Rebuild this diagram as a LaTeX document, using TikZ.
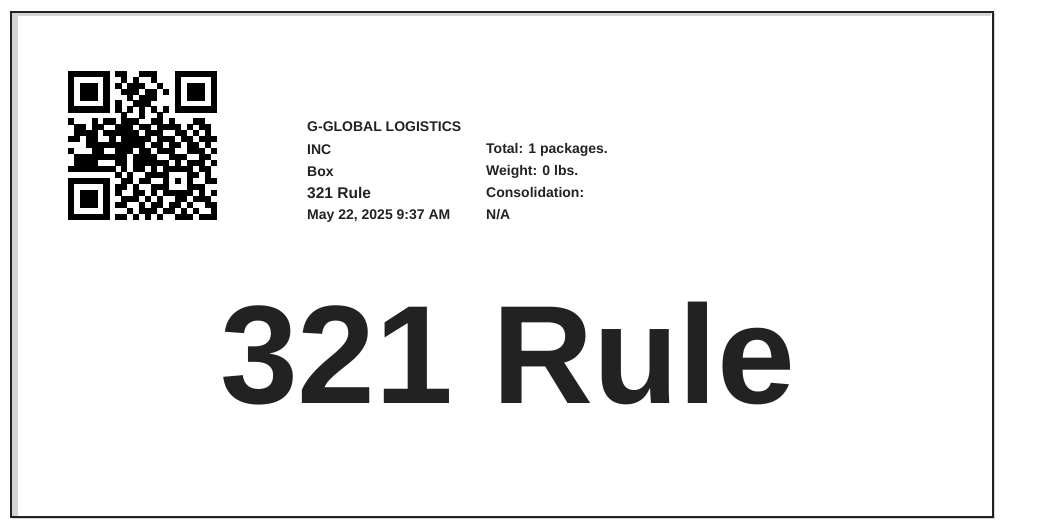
\documentclass[tikz,border=0pt]{standalone}
\usepackage{fontspec}
\setmainfont{Liberation Sans}
\definecolor{labelgray}{RGB}{34,34,34}
\definecolor{edgegray}{RGB}{212,212,212}

\begin{document}
\begin{tikzpicture}[x=1pt,y=-1pt]
	\tikzstyle{every node} = [inner sep=0pt, anchor=base west, text=labelgray, font=\bfseries\fontsize{14}{14}\selectfont]
	\useasboundingbox (0,0) rectangle (1049,527);
	% page frame
	\fill [edgegray] (12,13) rectangle (18,516);
	\fill [edgegray] (12,13) rectangle (991,16);
	\draw [edgegray, line width=.8pt] (994,13) -- (994,518) -- (12,518);
	\draw [labelgray, line width=2pt] (11,12.5) rectangle (992.5,516.5);
	% qr code, one row of modules per list
	\foreach \bits [count=\r from 0] in {
		{1,1,1,1,1,1,1,0,1,1,0,0,1,1,1,0,0,0,1,1,1,1,1,1,1},
		{1,0,0,0,0,0,1,0,0,1,0,1,0,0,1,0,0,0,1,0,0,0,0,0,1},
		{1,0,1,1,1,0,1,0,1,0,1,1,1,0,0,1,0,0,1,0,1,1,1,0,1},
		{1,0,1,1,1,0,1,0,0,1,1,1,0,1,1,0,1,0,1,0,1,1,1,0,1},
		{1,0,1,1,1,0,1,0,0,0,1,0,1,1,1,0,0,0,1,0,1,1,1,0,1},
		{1,0,0,0,0,0,1,0,1,0,0,1,1,1,0,0,0,0,1,0,0,0,0,0,1},
		{1,1,1,1,1,1,1,0,1,0,1,0,1,0,1,0,1,0,1,1,1,1,1,1,1},
		{0,0,0,0,0,0,0,0,0,1,0,0,1,0,0,1,0,0,0,0,0,0,0,0,0},
		{1,0,0,0,1,0,1,1,0,1,1,1,0,0,1,1,0,1,0,0,0,1,1,0,0},
		{0,1,1,0,1,1,0,0,1,1,1,0,1,1,0,1,1,1,1,0,1,0,1,1,0},
		{0,1,1,1,1,0,1,1,1,1,1,1,0,1,1,1,0,0,1,1,0,1,0,1,0},
		{1,1,0,1,1,0,0,1,0,1,1,1,1,1,0,1,1,1,0,1,1,0,1,1,1},
		{0,0,0,1,1,1,1,1,1,1,1,1,1,0,1,1,0,1,1,0,1,1,0,1,0},
		{1,0,0,0,1,1,0,0,1,1,1,0,1,1,0,1,1,1,0,0,1,1,1,0,1},
		{0,1,1,1,1,1,1,1,1,1,0,1,1,1,1,0,0,1,1,1,0,0,1,1,0},
		{0,1,1,1,1,0,0,0,1,1,0,1,1,1,1,1,1,0,1,0,1,1,1,0,1},
		{1,1,1,1,1,1,1,1,0,1,0,1,1,0,1,0,1,1,1,1,1,0,1,1,0},
		{0,0,0,0,0,0,0,0,1,0,1,0,0,1,1,1,1,0,0,0,1,1,0,1,0},
		{1,1,1,1,1,1,1,0,0,1,1,0,1,1,0,0,1,0,1,0,1,0,0,1,1},
		{1,0,0,0,0,0,1,0,1,1,0,1,0,0,1,1,1,0,0,0,1,1,1,0,0},
		{1,0,1,1,1,0,1,0,1,0,0,1,1,0,1,0,1,1,1,1,1,0,1,0,1},
		{1,0,1,1,1,0,1,0,0,1,1,1,0,1,0,1,0,0,1,1,0,1,1,1,0},
		{1,0,1,1,1,0,1,0,1,1,0,0,1,0,1,1,0,1,1,0,1,0,0,1,1},
		{1,0,0,0,0,0,1,0,0,0,1,0,1,1,1,0,1,1,0,1,0,1,0,0,1},
		{1,1,1,1,1,1,1,0,1,1,0,1,0,1,0,1,0,0,1,1,1,0,1,1,1}}
	{
		\foreach \b [count=\c from 0] in \bits
		{
			\ifnum\b=1 \fill (67.7+5.95*\c,70.7+5.95*\r) rectangle +(6.2,6.2); \fi
		}
	}
	% left column
	\node (company) at (307,131) {G-GLOBAL LOGISTICS};
	\node (inc) at (307,154) {INC};
	\node (kind) at (307,176) {Box};
	\node [font=\bfseries\fontsize{15.5}{15.5}\selectfont] (rulename) at (307,198) {321 Rule};
	\node (stamp) at (307,219) {May 22, 2025 9:37 AM};
	% right column
	\node (total) at (486,153) {Total: 1 packages.};
	\node (weight) at (486,175) {Weight: 0 lbs.};
	\node (consol) at (486,197) {Consolidation:};
	\node (consolval) at (486,219) {N/A};
	% big label
	\node [anchor=base, font=\bfseries\fontsize{140}{140}\selectfont] (bigrule) at (508,403.5) {321 Rule};
\end{tikzpicture}
\end{document}
